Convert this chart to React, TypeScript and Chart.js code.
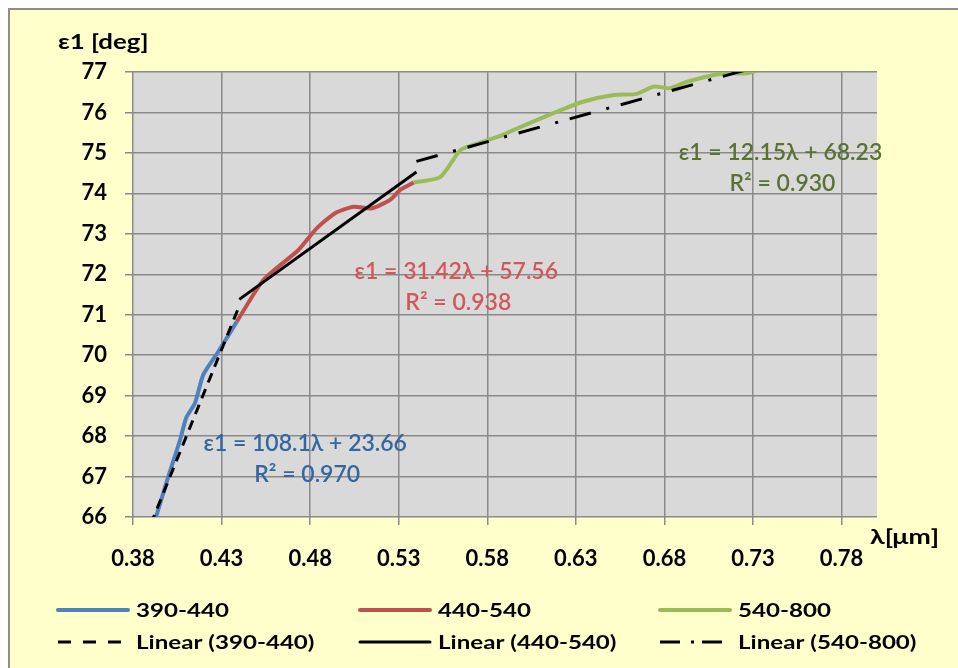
import React, { useEffect, useRef } from 'react';
import { Chart, registerables } from 'chart.js';

Chart.register(...registerables);

// ---- data ----
const xTickValues = [0.38, 0.43, 0.48, 0.53, 0.58, 0.63, 0.68, 0.73, 0.78];
const xTickLabels = ['0.38', '0.43', '0.48', '0.53', '0.58', '0.63', '0.68', '0.73', '0.78'];
const yMin = 66;
const yMax = 77;

const seriesNames = ['390-440', '440-540', '540-800'];
const trendNames = ['Linear (390-440)', 'Linear (440-540)', 'Linear (540-800)'];

const blueX = [0.39, 0.3934, 0.4, 0.4066, 0.41, 0.415, 0.4197, 0.4282, 0.4386];
const blueY = [65.6, 66.06, 67.01, 67.91, 68.45, 68.82, 69.52, 70.09, 70.83];

const redX = [0.4386, 0.4536, 0.4734, 0.4838, 0.4941, 0.5045, 0.5148, 0.5252, 0.531, 0.5384];
const redY = [70.83, 71.86, 72.6, 73.14, 73.51, 73.67, 73.63, 73.84, 74.09, 74.27];

const greenX = [0.5384, 0.5534, 0.5648, 0.5723, 0.5874, 0.595, 0.6194, 0.6345, 0.6514, 0.6645, 0.674, 0.6834, 0.6928, 0.7135, 0.7267, 0.745, 0.77, 0.8];
const greenY = [74.27, 74.4, 75.07, 75.2, 75.42, 75.57, 76.02, 76.27, 76.43, 76.46, 76.64, 76.6, 76.76, 76.97, 76.97, 77.2, 77.45, 77.7];

const trend1X = [0.39, 0.44];
const trend1Y = [65.82, 71.22];
const trend2X = [0.44, 0.54];
const trend2Y = [71.38, 74.53];
const trend3X = [0.54, 0.8];
const trend3Y = [74.79, 77.95];

const equations = ['ε1 = 108.1λ + 23.66', 'ε1 = 31.42λ + 57.56', 'ε1 = 12.15λ + 68.23'];
const r2Labels = ['R² = 0.970', 'R² = 0.938', 'R² = 0.930'];

const yTitle = 'ε1 [deg]';
const xTitle = 'λ[μm]';

const FONT = 'Lato, "Noto Sans", sans-serif';

const pts = (xs: number[], ys: number[]) => xs.map((x, i) => ({ x, y: ys[i] }));

function stretchText(ctx: CanvasRenderingContext2D, text: string, x: number, y: number, sx: number, align: CanvasTextAlign) {
  ctx.save();
  ctx.translate(x, y);
  ctx.scale(sx, 1);
  ctx.textAlign = align;
  ctx.fillText(text, 0, 0);
  ctx.restore();
}

export default function App() {
  const ref = useRef<HTMLCanvasElement>(null);

  useEffect(() => {
    if (!ref.current) return;

    const eqStyle = [
      { color: '#34679F', x: 0.4772, y: 67.81 },
      { color: '#D0585A', x: 0.5625, y: 72.07 },
      { color: '#5A7233', x: 0.7455, y: 75.02 },
    ];

    const decor = {
      id: 'decor',
      beforeDraw(chart: any) {
        const { ctx, chartArea: a } = chart;
        ctx.save();
        ctx.fillStyle = '#D9D9D9';
        ctx.fillRect(a.left, a.top, a.right - a.left, a.bottom - a.top);
        ctx.restore();
      },
      afterDraw(chart: any) {
        const { ctx } = chart;
        const xs = chart.scales.x;
        const ys = chart.scales.y;
        ctx.save();
        // axis titles
        ctx.fillStyle = '#000';
        ctx.font = `bold 21px ${FONT}`;
        ctx.textBaseline = 'middle';
        stretchText(ctx, yTitle, 58, 42, 1.23, 'left');
        stretchText(ctx, xTitle, 870, 537, 1.27, 'left');

        // trendline equations
        ctx.font = `600 23px ${FONT}`;
        eqStyle.forEach((s, i) => {
          const px = xs.getPixelForValue(s.x);
          const py = ys.getPixelForValue(s.y);
          ctx.fillStyle = s.color;
          stretchText(ctx, equations[i], px, py, 1, 'center');
          stretchText(ctx, r2Labels[i], px + 2, py + 31, 1, 'center');
        });

        // legend
        const ds = chart.data.datasets;
        const colX = [58, 360, 660];
        const rowY = [610, 642];
        const sampleLen = 70;
        ctx.font = `bold 19px ${FONT}`;
        ctx.textBaseline = 'middle';
        const legendOrder = [[3, 4, 5], [0, 1, 2]];
        legendOrder.forEach((row, r) => {
          row.forEach((di, c) => {
            const d = ds[di];
            const y = rowY[r];
            ctx.save();
            ctx.strokeStyle = d.borderColor;
            ctx.lineWidth = d.borderWidth;
            ctx.setLineDash(d.legendDash || d.borderDash || []);
            ctx.lineCap = d.borderDash ? 'butt' : 'round';
            ctx.beginPath();
            ctx.moveTo(colX[c], y);
            ctx.lineTo(colX[c] + sampleLen, y);
            ctx.stroke();
            ctx.restore();
            ctx.fillStyle = '#000';
            stretchText(ctx, d.label, colX[c] + sampleLen + 8, y + 1, 1.27, 'left');
          });
        });
        ctx.restore();
      },
    };

    const chart = new Chart(ref.current, {
      type: 'line',
      data: {
        datasets: [
          { label: trendNames[0], data: pts(trend1X, trend1Y), borderColor: '#000', borderWidth: 3, borderDash: [10, 7], legendDash: [13, 12], pointRadius: 0, order: 0, clip: 0 },
          { label: trendNames[1], data: pts(trend2X, trend2Y), borderColor: '#000', borderWidth: 3, pointRadius: 0, order: 0, clip: 0 },
          { label: trendNames[2], data: pts(trend3X, trend3Y), borderColor: '#000', borderWidth: 3, borderDash: [22, 16, 3, 12], legendDash: [20, 11, 3, 8], pointRadius: 0, order: 0, clip: 0 },
          { label: seriesNames[0], data: pts(blueX, blueY), borderColor: '#4F81BD', borderWidth: 4, pointRadius: 0, tension: 0.2, order: 1, clip: 0 },
          { label: seriesNames[1], data: pts(redX, redY), borderColor: '#C0504D', borderWidth: 4, pointRadius: 0, tension: 0.2, order: 1, clip: 0 },
          { label: seriesNames[2], data: pts(greenX, greenY), borderColor: '#9BBB59', borderWidth: 4, pointRadius: 0, tension: 0.2, order: 1, clip: 0 },
        ] as any,
      },
      options: {
        animation: false,
        responsive: false,
        maintainAspectRatio: false,
        layout: { padding: { top: 72, right: 81, left: 0, bottom: 0 } },
        plugins: { legend: { display: false }, tooltip: { enabled: false } },
        scales: {
          x: {
            type: 'linear',
            min: 0.38,
            max: 0.8,
            afterBuildTicks: (s: any) => {
              s.ticks = xTickValues.map((v) => ({ value: v }));
            },
            afterFit: (s: any) => {
              s.height = 151;
            },
            ticks: {
              autoSkip: false,
              maxRotation: 0,
              padding: 21,
              color: '#000',
              font: { family: FONT, size: 22, weight: 'bold' },
              callback: (_v: any, i: number) => xTickLabels[i],
            },
            grid: { color: '#8A8A8A', lineWidth: 1.5, tickLength: 8 },
            border: { display: false },
          },
          y: {
            type: 'linear',
            min: yMin,
            max: yMax,
            afterFit: (s: any) => {
              s.width = 133;
            },
            ticks: {
              stepSize: 1,
              padding: 18,
              color: '#000',
              font: { family: FONT, size: 22, weight: 'bold' },
            },
            grid: { color: '#8A8A8A', lineWidth: 1.5, tickLength: 8 },
            border: { display: false },
          },
        },
      } as any,
      plugins: [decor],
    });
    return () => chart.destroy();
  }, []);

  return (
    <div style={{ position: 'fixed', left: 0, top: 0, width: 958, height: 668, overflow: 'hidden' }}>
      <div
        style={{
          position: 'absolute',
          left: 8,
          top: 8,
          right: 0,
          bottom: 0,
          background: '#FFFFCC',
          borderLeft: '2px solid #8C8C8C',
          borderTop: '2px solid #8C8C8C',
        }}
      />
      <canvas
        ref={ref}
        width={958}
        height={668}
        style={{ position: 'absolute', left: 0, top: 0, width: 958, height: 668 }}
      />
    </div>
  );
}
